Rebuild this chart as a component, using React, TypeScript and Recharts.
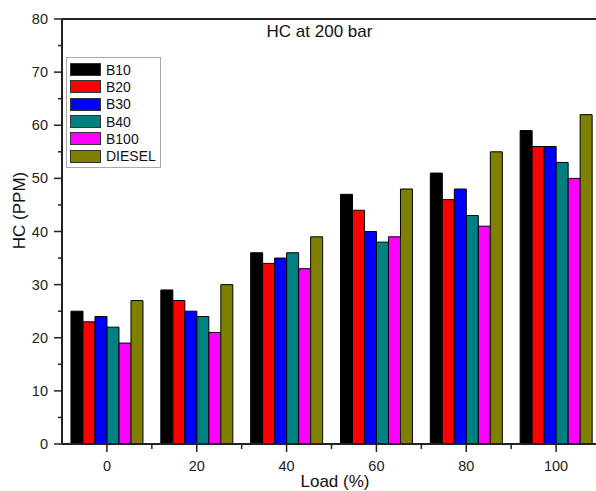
import React from 'react';
import { BarChart, Bar, XAxis, YAxis, Legend, ReferenceLine } from 'recharts';

const categories = ['0', '20', '40', '60', '80', '100'];
const b10 = [25, 29, 36, 47, 51, 59];
const b20 = [23, 27, 34, 44, 46, 56];
const b30 = [24, 25, 35, 40, 48, 56];
const b40 = [22, 24, 36, 38, 43, 53];
const b100 = [19, 21, 33, 39, 41, 50];
const diesel = [27, 30, 39, 48, 55, 62];
const yTicks = [0, 5, 10, 15, 20, 25, 30, 35, 40, 45, 50, 55, 60, 65, 70, 75, 80];

const seriesNames = ['B10', 'B20', 'B30', 'B40', 'B100', 'DIESEL'];
const seriesColors = ['#000000', '#ff0000', '#0000ff', '#008080', '#ff00ff', '#808000'];
const seriesValues = [b10, b20, b30, b40, b100, diesel];

const data = categories.map((c, i) => {
  const row: any = { load: c };
  seriesNames.forEach((n, k) => { row[n] = seriesValues[k][i]; });
  return row;
});

const W = 601;
const H = 491;
const LEFT = 62;
const HALF_BAND = (W - LEFT) / categories.length / 2;
const FONT = '"Liberation Sans", Arial, sans-serif';
const AXIS = '#222';

const YTick = (props: any) => {
  const { x, y, payload } = props;
  const major = payload.value % 10 === 0;
  return (
    <g>
      <line x1={x} x2={x - (major ? 8 : 4)} y1={y} y2={y} stroke={AXIS} strokeWidth={1.5} />
      {major && (
        <text x={x - 14} y={y} dy="0.35em" textAnchor="end" fontSize={14.5} fontFamily={FONT} fill="#222">
          {payload.value}
        </text>
      )}
    </g>
  );
};

const XTick = (props: any) => {
  const { x, y, payload } = props;
  return (
    <g>
      <line x1={x} x2={x} y1={y} y2={y + 8} stroke={AXIS} strokeWidth={1.5} />
      <line x1={x + HALF_BAND} x2={x + HALF_BAND} y1={y} y2={y + 5} stroke={AXIS} strokeWidth={1.5} />
      <text x={x} y={y + 27} textAnchor="middle" fontSize={14.5} fontFamily={FONT} fill="#222">
        {payload.value}
      </text>
    </g>
  );
};

const LegendBox = () => (
  <div
    style={{
      border: '1px solid #aaa',
      background: '#fff',
      padding: '3px 4px 2px 3px',
      fontFamily: FONT,
      fontSize: 14,
      color: '#111',
      lineHeight: 1,
    }}
  >
    {seriesNames.map((n, i) => (
      <div key={n} style={{ display: 'flex', alignItems: 'center', height: 17.3 }}>
        <div
          style={{
            width: 29,
            height: 11,
            background: seriesColors[i],
            border: '1px solid #333',
            marginRight: 5,
          }}
        />
        <span>{n}</span>
      </div>
    ))}
  </div>
);

export default function App() {
  return (
    <div style={{ position: 'absolute', left: 0, top: 0, width: 596, height: 491, overflow: 'hidden', background: '#fff' }}>
      <BarChart
        width={W}
        height={H}
        data={data}
        margin={{ top: 19, right: 0, left: 0, bottom: 0 }}
        barCategoryGap="10%"
        barGap={0}
      >
        <XAxis
          dataKey="load"
          height={47}
          tickSize={0}
          tickMargin={0}
          tickLine={false}
          tick={<XTick />}
          axisLine={{ stroke: AXIS, strokeWidth: 2 }}
          interval={0}
        />
        <YAxis
          width={62}
          domain={[0, 80]}
          ticks={yTicks}
          interval={0}
          tickSize={0}
          tickMargin={0}
          tickLine={false}
          tick={<YTick />}
          axisLine={{ stroke: AXIS, strokeWidth: 2 }}
          allowDataOverflow
        />
        <ReferenceLine y={80} stroke={AXIS} strokeWidth={2} />
        {seriesNames.map((n, i) => (
          <Bar
            key={n}
            dataKey={n}
            fill={seriesColors[i]}
            stroke="#000"
            strokeWidth={1}
            isAnimationActive={false}
          />
        ))}
        <Legend
          layout="vertical"
          align="center"
          verticalAlign="middle"
          content={<LegendBox />}
          wrapperStyle={{ left: 66, top: 57, width: 'auto', height: 'auto' }}
        />
        <text x={319.5} y={37} textAnchor="middle" fontSize={17} fontFamily={FONT} fill="#111">
          HC at 200 bar
        </text>
        <text
          x={0}
          y={0}
          transform="translate(25 210.5) rotate(-90)"
          textAnchor="middle"
          fontSize={17}
          fontFamily={FONT}
          fill="#111"
        >
          HC (PPM)
        </text>
        <text x={335} y={487} textAnchor="middle" fontSize={17} fontFamily={FONT} fill="#111">
          Load (%)
        </text>
      </BarChart>
    </div>
  );
}
